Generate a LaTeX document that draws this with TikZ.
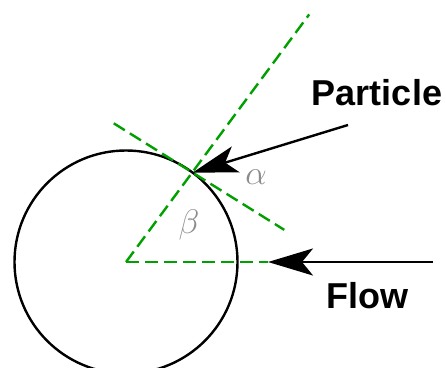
\documentclass[tikz,border=0pt]{standalone}
\usepackage{graphicx}
\usepackage{fontspec}
\setsansfont{Liberation Sans}
\usetikzlibrary{arrows.meta,calc,positioning}
\definecolor{GuideGreen}{HTML}{00A000}
\definecolor{AngleGrey}{HTML}{8C8C8C}
\newcommand{\bigangle}[1]{\scalebox{1.37}{$#1$}}

\begin{document}
\begin{tikzpicture}[x=1pt,y=1pt,
      guide/.style={draw=GuideGreen,line width=2.4pt,dash pattern=on 13pt off 6pt},
      push/.style={draw=black,line width=2.4pt,-{Stealth[length=45pt,width=27pt,inset=11pt]}},
      word/.style={font=\sffamily\bfseries\fontsize{36}{40}\selectfont,inner sep=0pt},
      angle/.style={text=AngleGrey,font=\fontsize{24.88}{30}\selectfont,inner sep=0pt}]
      \clip (0,0) rectangle (446,367);
      \coordinate (centre) at (126,105);
      \coordinate (contact) at ($(centre)+(53.3:111.5)$);
      \coordinate (flowtip) at (268,105);
      \draw[line width=2.4pt] (centre) circle[radius=111.5];
      % guide lines
      \draw[guide] (centre) -- ++(53.5:308);
      \draw[guide] ($(contact)+(148:93)$) -- ($(contact)+(-32:108)$);
      \draw[guide] (centre) -- (flowtip);
      % particle and flow
      \coordinate (particlestart) at (348,242);
      \coordinate (flowstart) at (433,105);
      \draw[push] (particlestart) -- (contact);
      \draw[push] (flowstart) -- (flowtip);
      \node[word] (particle) at (377,274) {Particle};
      \node[word] (flow) at (367,71) {Flow};
      \node[angle] (alpha) at (256,190) {\bigangle{\alpha}};
      \node[angle] (beta) at (189,142) {\bigangle{\beta}};
    \end{tikzpicture}
\end{document}
